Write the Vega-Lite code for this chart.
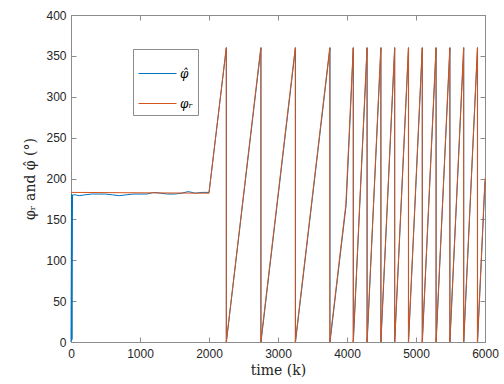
{
  "$schema": "https://vega.github.io/schema/vega-lite/v6.json",
  "autosize": {"type": "none"},
  "width": 414,
  "height": 327,
  "padding": {"left": 71, "top": 15, "right": 19, "bottom": 42},
  "background": "white",
  "config": {
    "view": {"stroke": "#8c8c8c", "strokeWidth": 1},
    "axis": {"grid": false, "domainColor": "#8c8c8c", "tickColor": "#8c8c8c", "labelFont": "Liberation Sans", "labelFontSize": 12, "labelColor": "#262626", "titleFont": "DejaVu Serif", "titleFontWeight": "normal", "titleFontSize": 14, "titleColor": "#262626", "format": "d"}
  },
  "datasets": {
    "est": [
      {"i": 1, "t": 0, "v": 0},
      {"i": 2, "t": 8, "v": 181},
      {"i": 3, "t": 14, "v": 3},
      {"i": 4, "t": 22, "v": 180},
      {"i": 5, "t": 60, "v": 180},
      {"i": 6, "t": 120, "v": 179},
      {"i": 7, "t": 200, "v": 180},
      {"i": 8, "t": 300, "v": 181},
      {"i": 9, "t": 400, "v": 181},
      {"i": 10, "t": 500, "v": 181},
      {"i": 11, "t": 600, "v": 180},
      {"i": 12, "t": 700, "v": 179},
      {"i": 13, "t": 800, "v": 180},
      {"i": 14, "t": 900, "v": 181},
      {"i": 15, "t": 1000, "v": 181},
      {"i": 16, "t": 1100, "v": 181},
      {"i": 17, "t": 1200, "v": 183},
      {"i": 18, "t": 1300, "v": 182},
      {"i": 19, "t": 1400, "v": 181},
      {"i": 20, "t": 1500, "v": 181},
      {"i": 21, "t": 1600, "v": 182},
      {"i": 22, "t": 1700, "v": 184},
      {"i": 23, "t": 1800, "v": 182},
      {"i": 24, "t": 1900, "v": 183},
      {"i": 25, "t": 2000, "v": 183},
      {"i": 26, "t": 2252, "v": 360},
      {"i": 27, "t": 2252, "v": 0},
      {"i": 28, "t": 2754, "v": 360},
      {"i": 29, "t": 2754, "v": 0},
      {"i": 30, "t": 3254, "v": 360},
      {"i": 31, "t": 3254, "v": 0},
      {"i": 32, "t": 3754, "v": 360},
      {"i": 33, "t": 3754, "v": 0},
      {"i": 34, "t": 3988, "v": 168},
      {"i": 35, "t": 4092, "v": 360},
      {"i": 36, "t": 4092, "v": 0},
      {"i": 37, "t": 4292, "v": 360},
      {"i": 38, "t": 4292, "v": 0},
      {"i": 39, "t": 4492, "v": 360},
      {"i": 40, "t": 4492, "v": 0},
      {"i": 41, "t": 4692, "v": 360},
      {"i": 42, "t": 4692, "v": 0},
      {"i": 43, "t": 4892, "v": 360},
      {"i": 44, "t": 4892, "v": 0},
      {"i": 45, "t": 5092, "v": 360},
      {"i": 46, "t": 5092, "v": 0},
      {"i": 47, "t": 5292, "v": 360},
      {"i": 48, "t": 5292, "v": 0},
      {"i": 49, "t": 5492, "v": 360},
      {"i": 50, "t": 5492, "v": 0},
      {"i": 51, "t": 5692, "v": 360},
      {"i": 52, "t": 5692, "v": 0},
      {"i": 53, "t": 5892, "v": 360},
      {"i": 54, "t": 5892, "v": 0},
      {"i": 55, "t": 6000, "v": 196}
    ],
    "ref": [
      {"i": 1, "t": 0, "v": 183},
      {"i": 2, "t": 2000, "v": 182},
      {"i": 3, "t": 2250, "v": 360},
      {"i": 4, "t": 2250, "v": 0},
      {"i": 5, "t": 2750, "v": 360},
      {"i": 6, "t": 2750, "v": 0},
      {"i": 7, "t": 3250, "v": 360},
      {"i": 8, "t": 3250, "v": 0},
      {"i": 9, "t": 3750, "v": 360},
      {"i": 10, "t": 3750, "v": 0},
      {"i": 11, "t": 3983, "v": 168},
      {"i": 12, "t": 4090, "v": 360},
      {"i": 13, "t": 4090, "v": 0},
      {"i": 14, "t": 4290, "v": 360},
      {"i": 15, "t": 4290, "v": 0},
      {"i": 16, "t": 4490, "v": 360},
      {"i": 17, "t": 4490, "v": 0},
      {"i": 18, "t": 4690, "v": 360},
      {"i": 19, "t": 4690, "v": 0},
      {"i": 20, "t": 4890, "v": 360},
      {"i": 21, "t": 4890, "v": 0},
      {"i": 22, "t": 5090, "v": 360},
      {"i": 23, "t": 5090, "v": 0},
      {"i": 24, "t": 5290, "v": 360},
      {"i": 25, "t": 5290, "v": 0},
      {"i": 26, "t": 5490, "v": 360},
      {"i": 27, "t": 5490, "v": 0},
      {"i": 28, "t": 5690, "v": 360},
      {"i": 29, "t": 5690, "v": 0},
      {"i": 30, "t": 5890, "v": 360},
      {"i": 31, "t": 5890, "v": 0},
      {"i": 32, "t": 6000, "v": 200}
    ]
  },
  "resolve": {"axis": {"x": "independent", "y": "independent"}},
  "layer": [
    {
      "data": {"name": "est"},
      "mark": {"type": "line", "strokeWidth": 1},
      "encoding": {
        "x": {"field": "t", "type": "quantitative", "scale": {"domain": [0, 6000], "nice": false}, "axis": {"values": [0, 1000, 2000, 3000, 4000, 5000, 6000], "title": "time (k)", "tickSize": -5, "labelPadding": 11, "titlePadding": 4, "labelFlush": false}},
        "y": {"field": "v", "type": "quantitative", "scale": {"domain": [0, 400], "nice": false}, "axis": {"values": [0, 50, 100, 150, 200, 250, 300, 350, 400], "title": "φᵣ and φ̂ (°)", "tickSize": -5, "labelPadding": 10, "titlePadding": 8}},
        "order": {"field": "i", "type": "quantitative"},
        "color": {"datum": "a", "type": "nominal", "scale": {"domain": ["a", "b"], "range": ["#0072BD", "#D95319"]}, "legend": {"title": null, "orient": "none", "legendX": 62, "legendY": 34, "symbolType": "stroke", "symbolSize": 1444, "symbolStrokeWidth": 1, "strokeColor": "#8c8c8c", "fillColor": "white", "padding": 5, "labelFont": "DejaVu Serif", "labelFontStyle": "italic", "labelFontSize": 12, "labelOffset": 3, "rowPadding": 4, "labelExpr": "datum.value === 'a' ? 'φ̂' : 'φᵣ'", "encode": {"symbols": {"update": {"fill": {"scale": "color", "field": "value"}, "stroke": {"scale": "color", "field": "value"}}}}}}
      }
    },
    {
      "data": {"name": "ref"},
      "mark": {"type": "line", "strokeWidth": 1},
      "encoding": {
        "x": {"field": "t", "type": "quantitative", "axis": {"orient": "top", "values": [0, 1000, 2000, 3000, 4000, 5000, 6000], "labels": false, "title": null, "tickSize": -5}},
        "y": {"field": "v", "type": "quantitative", "axis": {"orient": "right", "values": [0, 50, 100, 150, 200, 250, 300, 350, 400], "labels": false, "title": null, "tickSize": -5}},
        "order": {"field": "i", "type": "quantitative"},
        "color": {"datum": "b", "type": "nominal"}
      }
    }
  ]
}
